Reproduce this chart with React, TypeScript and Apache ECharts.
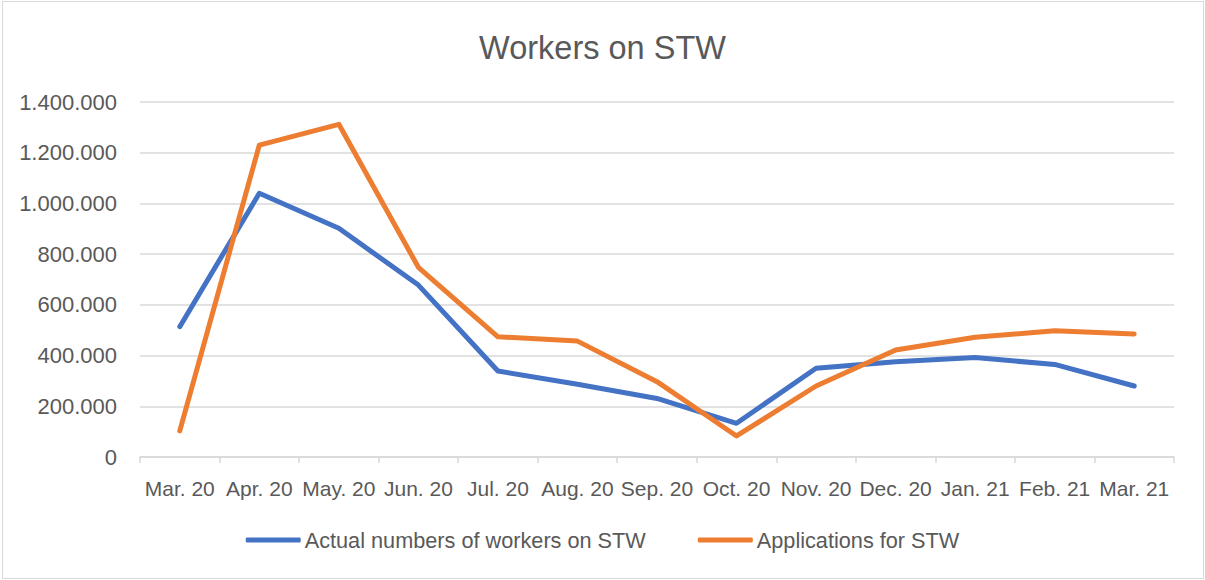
import React, { useEffect, useRef } from "react";
import * as echarts from "echarts";

const categories = [
  "Mar. 20", "Apr. 20", "May. 20", "Jun. 20", "Jul. 20", "Aug. 20", "Sep. 20",
  "Oct. 20", "Nov. 20", "Dec. 20", "Jan. 21", "Feb. 21", "Mar. 21",
];
const actualWorkers = [
  514000, 1040000, 902000, 678000, 339000, 287000, 231000,
  133000, 350000, 376000, 392000, 365000, 280000,
];
const applications = [
  103000, 1230000, 1312000, 748000, 474000, 457000, 297000,
  83000, 280000, 422000, 472000, 498000, 485000,
];
const seriesNames = ["Actual numbers of workers on STW", "Applications for STW"];
const titleText = "Workers on STW";

const fmt = (v: number) => String(Math.round(v)).replace(/\B(?=(\d{3})+(?!\d))/g, ".");

const FONT = "Liberation Sans";
const TEXT = "#595959";
const GRID = "#D9D9D9";

export default function App() {
  const ref = useRef<HTMLDivElement>(null);
  useEffect(() => {
    if (!ref.current) return;
    const chart = echarts.init(ref.current, undefined, { renderer: "svg" });
    chart.setOption({
      animation: false,
      backgroundColor: "transparent",
      title: {
        text: titleText,
        left: "center",
        top: 26,
        textStyle: { fontFamily: FONT, fontSize: 32.5, fontWeight: "normal", color: TEXT },
      },
      legend: {
        bottom: 24,
        left: "center",
        itemWidth: 55,
        itemHeight: 5,
        itemGap: 52,
        icon: "roundRect",
        textStyle: { fontFamily: FONT, fontSize: 21.7, color: TEXT, padding: [0, 0, 0, -1] },
        data: seriesNames,
      },
      grid: { left: 140, right: 31, top: 102, bottom: 123, containLabel: false },
      xAxis: {
        type: "category",
        data: categories,
        boundaryGap: true,
        axisLine: { lineStyle: { color: GRID, width: 1.5 } },
        axisTick: { show: true, length: 6, lineStyle: { color: GRID, width: 1.5 } },
        axisLabel: { fontFamily: FONT, fontSize: 21, color: TEXT, margin: 21, interval: 0 },
      },
      yAxis: {
        type: "value",
        min: 0,
        max: 1400000,
        interval: 200000,
        axisLine: { show: false },
        axisTick: { show: false },
        splitLine: { lineStyle: { color: GRID, width: 1.5 } },
        axisLabel: { fontFamily: FONT, fontSize: 22, color: TEXT, margin: 23, formatter: fmt },
      },
      series: [
        {
          name: seriesNames[0],
          type: "line",
          data: actualWorkers,
          symbol: "none",
          color: "#4472C4",
          lineStyle: { width: 5, color: "#4472C4", cap: "round", join: "round" },
        },
        {
          name: seriesNames[1],
          type: "line",
          data: applications,
          symbol: "none",
          color: "#ED7D31",
          lineStyle: { width: 5, color: "#ED7D31", cap: "round", join: "round" },
        },
      ],
    });
    return () => chart.dispose();
  }, []);
  return (
    <div style={{ position: "fixed", left: 0, top: 0, width: 1205, height: 580, background: "#fff" }}>
      <div
        style={{
          position: "absolute",
          left: 2,
          top: 1,
          width: 1202,
          height: 578,
          border: "1.5px solid #D9D9D9",
          boxSizing: "border-box",
        }}
      />
      <div ref={ref} style={{ position: "absolute", left: 0, top: 0, width: 1205, height: 580 }} />
    </div>
  );
}
